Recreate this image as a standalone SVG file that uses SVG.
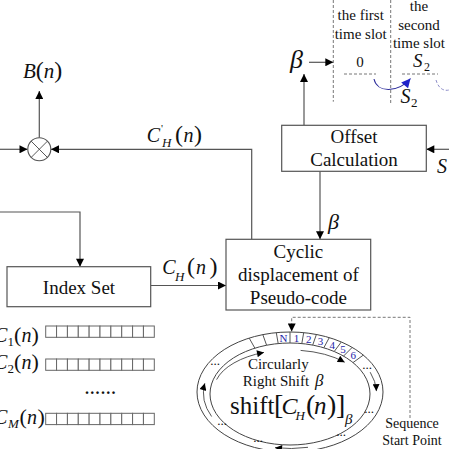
<svg xmlns="http://www.w3.org/2000/svg" width="449" height="449" viewBox="0 0 449 449">
<defs>
<style>
.t{font-family:"Liberation Serif","Times New Roman",serif;fill:#111}
.i{font-style:italic}
.ln{fill:none;stroke:#555;stroke-width:1.2}
.dash{fill:none;stroke:#777;stroke-width:1;stroke-dasharray:3 2}
.box{fill:#fff;stroke:#555;stroke-width:1.2}
.thin{fill:none;stroke:#444;stroke-width:0.9}
.cell{fill:#fff;stroke:#666;stroke-width:1}
.blue{font-family:"Liberation Serif","Times New Roman",serif;fill:#2323a8;font-size:11px}
.dots{font-family:"Liberation Serif","Times New Roman",serif;fill:#111;font-size:13px}
</style>
<marker id="ah" viewBox="0 0 10 10" refX="10" refY="5" markerWidth="9" markerHeight="8" markerUnits="userSpaceOnUse" orient="auto"><path d="M0,0L10,5L0,10z" fill="#000"/></marker>
<marker id="ahs" viewBox="0 0 10 10" refX="10" refY="5" markerWidth="8" markerHeight="7" markerUnits="userSpaceOnUse" orient="auto"><path d="M0,0L10,5L0,10z" fill="#000"/></marker>
<marker id="ahb" viewBox="0 0 10 10" refX="10" refY="5" markerWidth="10" markerHeight="9" markerUnits="userSpaceOnUse" orient="auto"><path d="M0,0L10,5L0,10z" fill="#1f22c9"/></marker>
</defs>
<rect width="449" height="449" fill="#fff"/>

<g id="connectors">
<line class="ln" x1="0" y1="149.3" x2="27.5" y2="149.3" marker-end="url(#ah)"/>
<polyline class="ln" points="251.7,239.3 251.7,149.3 51,149.3" marker-end="url(#ah)"/>
<line class="ln" x1="39.3" y1="137.8" x2="39.3" y2="91" marker-end="url(#ah)"/>
<polyline class="ln" points="0,212 80,212 80,266.7" marker-end="url(#ah)"/>
<line class="ln" x1="150.7" y1="285.5" x2="226" y2="285.5" marker-end="url(#ah)"/>
<line class="ln" x1="320" y1="171.3" x2="320" y2="239.3" marker-end="url(#ah)"/>
<line class="ln" x1="304" y1="125.3" x2="304" y2="74" marker-end="url(#ah)"/>
<line class="ln" x1="309" y1="62.3" x2="333.3" y2="62.3" marker-end="url(#ah)"/>
<line class="ln" x1="449" y1="149.3" x2="426.3" y2="149.3" marker-end="url(#ah)"/>
<polyline class="dash" points="410,418 410,317.3 291.7,317.3 291.7,331.5" marker-end="url(#ah)"/>
</g>

<g id="multiplier">
<circle cx="39.3" cy="149.3" r="11.5" fill="#fff" stroke="#555" stroke-width="1.1"/>
<line class="thin" x1="31.2" y1="141.2" x2="47.4" y2="157.4"/>
<line class="thin" x1="47.4" y1="141.2" x2="31.2" y2="157.4"/>
</g>

<g id="label-B">
<text class="t" x="23" y="78" font-size="21"><tspan class="i">B</tspan><tspan font-size="24">(</tspan><tspan class="i">n</tspan><tspan font-size="24">)</tspan></text>
</g>

<g id="label-CH-prime">
<text class="t i" x="146.7" y="142" font-size="20">C</text>
<text class="t" x="161" y="132" font-size="11">'</text>
<text class="t i" x="162" y="147" font-size="13">H</text>
<text class="t" x="175" y="142" font-size="24">(</text>
<text class="t i" x="183.5" y="142" font-size="20">n</text>
<text class="t" x="194" y="142" font-size="24">)</text>
</g>

<g id="offset">
<rect class="box" x="281.7" y="125.3" width="144.6" height="46"/>
<text class="t" x="354" y="143" font-size="19" text-anchor="middle">Offset</text>
<text class="t" x="354" y="166" font-size="19" text-anchor="middle">Calculation</text>
</g>

<g id="cyclic">
<rect class="box" x="226" y="239.3" width="144.7" height="70.7"/>
<text class="t" x="298.4" y="258" font-size="19" text-anchor="middle">Cyclic</text>
<text class="t" x="298.4" y="281" font-size="19" text-anchor="middle">displacement of</text>
<text class="t" x="298.4" y="303.5" font-size="19" text-anchor="middle">Pseudo-code</text>
</g>

<g id="index-set">
<rect class="box" x="7" y="266.7" width="143.7" height="40"/>
<text class="t" x="79" y="293.5" font-size="19" text-anchor="middle">Index Set</text>
</g>

<g id="label-CH">
<text class="t i" x="162.3" y="274" font-size="20">C</text>
<text class="t i" x="175" y="280.5" font-size="13">H</text>
<text class="t" x="187" y="274" font-size="24">(</text>
<text class="t i" x="196" y="274" font-size="20">n</text>
<text class="t" x="209.5" y="274" font-size="24">)</text>
</g>

<g id="beta-labels">
<text class="t i" x="290" y="68" font-size="26">β</text>
<text class="t i" x="328" y="229" font-size="22">β</text>
<text class="t i" x="437" y="173" font-size="20">S</text>
</g>

<g id="timeslots">
<line class="dash" x1="333.3" y1="0" x2="333.3" y2="101.7"/>
<line class="dash" x1="390.7" y1="0" x2="390.7" y2="105"/>
<text class="t" x="360.7" y="20" font-size="15" text-anchor="middle">the first</text>
<text class="t" x="360.7" y="38.5" font-size="15" text-anchor="middle">time slot</text>
<text class="t" x="419" y="11" font-size="15" text-anchor="middle">the</text>
<text class="t" x="419" y="29.5" font-size="15" text-anchor="middle">second</text>
<text class="t" x="419" y="47.5" font-size="15" text-anchor="middle">time slot</text>
<text class="t" x="360" y="67" font-size="15" text-anchor="middle">0</text>
<text class="t i" x="413" y="67" font-size="19">S</text>
<text class="t" x="424" y="70.5" font-size="12">2</text>
<line class="dash" x1="344" y1="74" x2="376" y2="74"/>
<line class="dash" x1="402" y1="74" x2="438" y2="74"/>
<path d="M374,79 C377,93 398,93 410.5,78.5" fill="none" stroke="#2a2a9a" stroke-width="1.1" marker-end="url(#ahb)"/>
<path d="M436,80 C439,90 445,91 449,90" fill="none" stroke="#8c8cc8" stroke-width="1" stroke-dasharray="3 2"/>
<text class="t i" x="400.5" y="103" font-size="20">S</text>
<text class="t" x="411" y="107" font-size="13">2</text>
</g>

<g id="sequences">
<g id="seq-c1">
<text class="t i" x="-6" y="342" font-size="20">C</text>
<text class="t" x="7.5" y="346" font-size="13">1</text>
<text class="t" x="14" y="342" font-size="22">(</text>
<text class="t i" x="21.5" y="342" font-size="20">n</text>
<text class="t" x="31.5" y="342" font-size="22">)</text>
<g class="cell"><rect x="45.7" y="326" width="10.86" height="11.3"/><rect x="56.56" y="326" width="10.86" height="11.3"/><rect x="67.42" y="326" width="10.86" height="11.3"/><rect x="78.28" y="326" width="10.86" height="11.3"/><rect x="89.14" y="326" width="10.86" height="11.3"/><rect x="100" y="326" width="10.86" height="11.3"/><rect x="110.86" y="326" width="10.86" height="11.3"/><rect x="121.72" y="326" width="10.86" height="11.3"/><rect x="132.58" y="326" width="10.86" height="11.3"/><rect x="143.44" y="326" width="10.86" height="11.3"/></g>
</g>
<g id="seq-c2">
<text class="t i" x="-6" y="369" font-size="20">C</text>
<text class="t" x="7.5" y="373" font-size="13">2</text>
<text class="t" x="14" y="369" font-size="22">(</text>
<text class="t i" x="21.5" y="369" font-size="20">n</text>
<text class="t" x="31.5" y="369" font-size="22">)</text>
<g class="cell"><rect x="45.7" y="359" width="10.86" height="11.3"/><rect x="56.56" y="359" width="10.86" height="11.3"/><rect x="67.42" y="359" width="10.86" height="11.3"/><rect x="78.28" y="359" width="10.86" height="11.3"/><rect x="89.14" y="359" width="10.86" height="11.3"/><rect x="100" y="359" width="10.86" height="11.3"/><rect x="110.86" y="359" width="10.86" height="11.3"/><rect x="121.72" y="359" width="10.86" height="11.3"/><rect x="132.58" y="359" width="10.86" height="11.3"/><rect x="143.44" y="359" width="10.86" height="11.3"/></g>
</g>
<text class="t" x="85" y="394" font-size="16" font-weight="bold" letter-spacing="1.3">......</text>
<g id="seq-cm">
<text class="t i" x="-6" y="424" font-size="20">C</text>
<text class="t i" x="8" y="428" font-size="13">M</text>
<text class="t" x="19.5" y="424" font-size="22">(</text>
<text class="t i" x="27" y="424" font-size="20">n</text>
<text class="t" x="37.5" y="424" font-size="22">)</text>
<g class="cell"><rect x="45.7" y="413.3" width="10.86" height="11.3"/><rect x="56.56" y="413.3" width="10.86" height="11.3"/><rect x="67.42" y="413.3" width="10.86" height="11.3"/><rect x="78.28" y="413.3" width="10.86" height="11.3"/><rect x="89.14" y="413.3" width="10.86" height="11.3"/><rect x="100" y="413.3" width="10.86" height="11.3"/><rect x="110.86" y="413.3" width="10.86" height="11.3"/><rect x="121.72" y="413.3" width="10.86" height="11.3"/><rect x="132.58" y="413.3" width="10.86" height="11.3"/><rect x="143.44" y="413.3" width="10.86" height="11.3"/></g>
</g>
</g>

<g id="ring">
<ellipse cx="290" cy="392" rx="93" ry="60" fill="none" stroke="#444" stroke-width="1"/>
<ellipse cx="290" cy="394" rx="80" ry="51" fill="none" stroke="#444" stroke-width="1"/>
<g stroke="#555" stroke-width="1">
<line x1="249.2" y1="338.1" x2="254.9" y2="348.2"/>
<line x1="262.8" y1="334.6" x2="266.6" y2="345.2"/>
<line x1="276.3" y1="332.7" x2="278.2" y2="343.6"/>
<line x1="290" y1="332" x2="290" y2="343"/>
<line x1="303.7" y1="332.7" x2="301.8" y2="343.6"/>
<line x1="316.4" y1="334.5" x2="312.7" y2="345.1"/>
<line x1="329.3" y1="337.6" x2="323.8" y2="347.8"/>
<line x1="341.3" y1="342" x2="334.2" y2="351.5"/>
<line x1="352.2" y1="347.4" x2="343.5" y2="356.1"/>
<line x1="363.3" y1="355.1" x2="353" y2="362.6"/>
</g>
<text class="blue" x="283.6" y="341.5" text-anchor="middle">N</text>
<text class="blue" x="296.5" y="341.5" text-anchor="middle">1</text>
<text class="blue" x="308.7" y="342.5" text-anchor="middle">2</text>
<text class="blue" x="320.6" y="345" text-anchor="middle">3</text>
<text class="blue" x="332.2" y="348.5" text-anchor="middle">4</text>
<text class="blue" x="343" y="353" text-anchor="middle">5</text>
<text class="blue" x="353.2" y="359" text-anchor="middle">6</text>
<path class="thin" d="M216.6,379.6 A76,40 0 0 1 264,352.4" marker-end="url(#ahs)"/>
<path class="thin" d="M300.6,350.4 A76,40 0 0 1 344.7,362.2" marker-end="url(#ahs)"/>
<path class="thin" d="M211.6,416.5 A86.5,55.5 0 0 1 204.8,383.3" marker-end="url(#ahs)"/>
<path class="thin" d="M370.2,372.2 A86.5,55.5 0 0 1 376.4,391.1" marker-end="url(#ahs)"/>
<path class="thin" d="M308,447.3 A86.5,55.5 0 0 1 275,447.7" marker-end="url(#ahs)"/>
<text class="dots" x="215" y="365" text-anchor="middle">...</text>
<text class="dots" x="222" y="425" text-anchor="middle">...</text>
<text class="dots" x="258" y="442" text-anchor="middle">...</text>
<text class="dots" x="341" y="436" text-anchor="middle">...</text>
<text class="dots" x="367" y="369" text-anchor="middle">...</text>
<text class="dots" x="369" y="413" text-anchor="middle">...</text>
<text class="t" x="278.3" y="369" font-size="15" text-anchor="middle">Circularly</text>
<text class="t" x="276" y="386" font-size="15" text-anchor="middle">Right Shift</text>
<text class="t i" x="315" y="386" font-size="17">β</text>
<text class="t" x="230" y="414" font-size="25">shift</text>
<text class="t" x="274" y="414" font-size="28">[</text>
<text class="t i" x="281.5" y="414" font-size="24">C</text>
<text class="t i" x="295.5" y="419.5" font-size="13">H</text>
<text class="t" x="306" y="414" font-size="28">(</text>
<text class="t i" x="314" y="414" font-size="25">n</text>
<text class="t" x="327" y="414" font-size="28">)</text>
<text class="t" x="336" y="414" font-size="28">]</text>
<text class="t i" x="345" y="424" font-size="15">β</text>
</g>

<g id="sequence-start">
<text class="t" x="412" y="428" font-size="14" text-anchor="middle">Sequence</text>
<text class="t" x="412" y="445" font-size="14" text-anchor="middle">Start Point</text>
</g>
</svg>
